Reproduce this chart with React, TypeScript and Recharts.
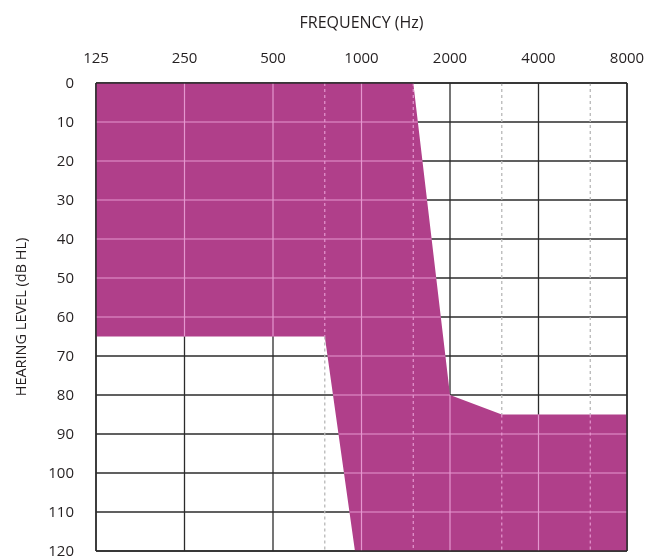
import React from 'react';
import { ComposedChart, Area, XAxis, YAxis, CartesianGrid, ReferenceLine, Label } from 'recharts';

// outline of the shaded region: for each frequency, top and bottom of fill (dB HL)
const freqs = [125, 750, 950, 1500, 2000, 3000, 8000];
const fillTop = [0, 0, 0, 0, 80, 85, 85];
const fillBottom = [65, 65, 120, 120, 120, 120, 120];

const freqTicks = [125, 250, 500, 1000, 2000, 4000, 8000];
const halfOctaves = [750, 1500, 3000, 6000];
const dbTicks = [0, 10, 20, 30, 40, 50, 60, 70, 80, 90, 100, 110, 120];

const FONT = '"Open Sans", sans-serif';
const TEXT = '#231f20';
const MAGENTA = '#b03f8a';
const LIGHT = '#e597cf';
const DARK = '#2b2b2b';

const data = freqs.map((f, i) => ({ f, range: [fillTop[i], fillBottom[i]] }));

const lg = Math.log;
const lerpF = (a: number, b: number, t: number) => Math.exp(lg(a) + t * (lg(b) - lg(a)));

// value of an outline at frequency f (linear in log-frequency, like the log axis)
const at = (arr: number[], f: number) => {
    for (let i = 0; i < freqs.length - 1; i++) {
        if (f >= freqs[i] && f <= freqs[i + 1]) {
            const t = (lg(f) - lg(freqs[i])) / (lg(freqs[i + 1]) - lg(freqs[i]));
            return arr[i] + t * (arr[i + 1] - arr[i]);
        }
    }
    return arr[arr.length - 1];
};

// first freq where bottom >= d
const firstBottom = (d: number) => {
    if (fillBottom[0] >= d) return freqs[0];
    for (let i = 0; i < freqs.length - 1; i++) {
        if (fillBottom[i] < d && d <= fillBottom[i + 1]) {
            return lerpF(freqs[i], freqs[i + 1], (d - fillBottom[i]) / (fillBottom[i + 1] - fillBottom[i]));
        }
    }
    return freqs[freqs.length - 1];
};

// last freq where top <= d
const lastTop = (d: number) => {
    if (fillTop[fillTop.length - 1] <= d) return freqs[freqs.length - 1];
    for (let i = 0; i < freqs.length - 1; i++) {
        if (fillTop[i] <= d && d < fillTop[i + 1]) {
            return lerpF(freqs[i], freqs[i + 1], (d - fillTop[i]) / (fillTop[i + 1] - fillTop[i]));
        }
    }
    return freqs[0];
};

const inner = dbTicks.slice(1, -1);
const innerFreqs = [250, 500, 750, 1000, 1500, 2000, 3000, 4000, 6000];

const XTitle = (props: any) => {
    const vb = props.viewBox;
    return (
        <text x={vb.x + vb.width / 2} y={vb.y + 14} textAnchor="middle" dominantBaseline="central"
            fontFamily={FONT} fontSize={16} fill={TEXT}>FREQUENCY (Hz)</text>
    );
};

const YTitle = (props: any) => {
    const vb = props.viewBox;
    const x = vb.x + 12;
    const y = vb.y + vb.height / 2;
    return (
        <text x={x} y={y} transform={`rotate(-90, ${x}, ${y})`} textAnchor="middle" dominantBaseline="central"
            fontFamily={FONT} fontSize={14.5} fill={TEXT}>HEARING LEVEL (dB HL)</text>
    );
};

const App: React.FC = () => {
    const lightH = inner.map((d) => ({ d, a: firstBottom(d), b: lastTop(d) })).filter((s) => s.b > s.a);
    const lightV = innerFreqs.map((f) => ({ f, a: at(fillTop, f), b: at(fillBottom, f) }));
    const dashOut = halfOctaves.flatMap((f) => {
        const t = at(fillTop, f);
        const b = at(fillBottom, f);
        const out: { f: number; a: number; b: number }[] = [];
        if (t > 0.5) out.push({ f, a: 0, b: t });
        if (b < 119.5) out.push({ f, a: b, b: 120 });
        return out;
    });

    return (
        <div style={{ position: 'fixed', top: 0, left: 0 }}>
            <ComposedChart width={646} height={557} data={data} margin={{ top: 8, right: 19, left: 8, bottom: 6 }}>
                <CartesianGrid stroke={DARK} strokeWidth={1.3} />
                <XAxis dataKey="f" type="number" scale="log" domain={[125, 8000]} ticks={freqTicks} orientation="top"
                    height={75} axisLine={false} tickLine={false} tickSize={14} tickMargin={6} interval={0}
                    allowDataOverflow tick={{ fontFamily: FONT, fontSize: 15, fill: TEXT }}>
                    <Label content={<XTitle />} />
                </XAxis>
                <YAxis type="number" domain={[0, 120]} ticks={dbTicks} reversed width={88} interval={0}
                    axisLine={false} tickLine={false} tickSize={16} tickMargin={6}
                    tick={{ fontFamily: FONT, fontSize: 15, fill: TEXT }}>
                    <Label content={<YTitle />} />
                </YAxis>
                <Area dataKey="range" type="linear" stroke="none" fill={MAGENTA} fillOpacity={1}
                    isAnimationActive={false} dot={false} activeDot={false} />
                {dashOut.map((s, i) => (
                    <ReferenceLine key={`do${i}`} segment={[{ x: s.f, y: s.a }, { x: s.f, y: s.b }]}
                        stroke="#b8b8b8" strokeWidth={1.3} strokeDasharray="3 3" />
                ))}
                {lightH.map((s) => (
                    <ReferenceLine key={`lh${s.d}`} segment={[{ x: s.a, y: s.d }, { x: s.b, y: s.d }]}
                        stroke={LIGHT} strokeWidth={1.2} />
                ))}
                {lightV.map((s) => (
                    <ReferenceLine key={`lv${s.f}`} segment={[{ x: s.f, y: s.a }, { x: s.f, y: s.b }]}
                        stroke={LIGHT} strokeWidth={1.2} strokeDasharray={halfOctaves.includes(s.f) ? '3 3' : undefined} />
                ))}
                <ReferenceLine y={0} stroke={DARK} strokeWidth={1.5} />
                <ReferenceLine y={120} stroke={DARK} strokeWidth={1.5} />
                <ReferenceLine x={125} stroke={DARK} strokeWidth={1.5} />
                <ReferenceLine x={8000} stroke={DARK} strokeWidth={1.5} />
            </ComposedChart>
        </div>
    );
};

export default App;
